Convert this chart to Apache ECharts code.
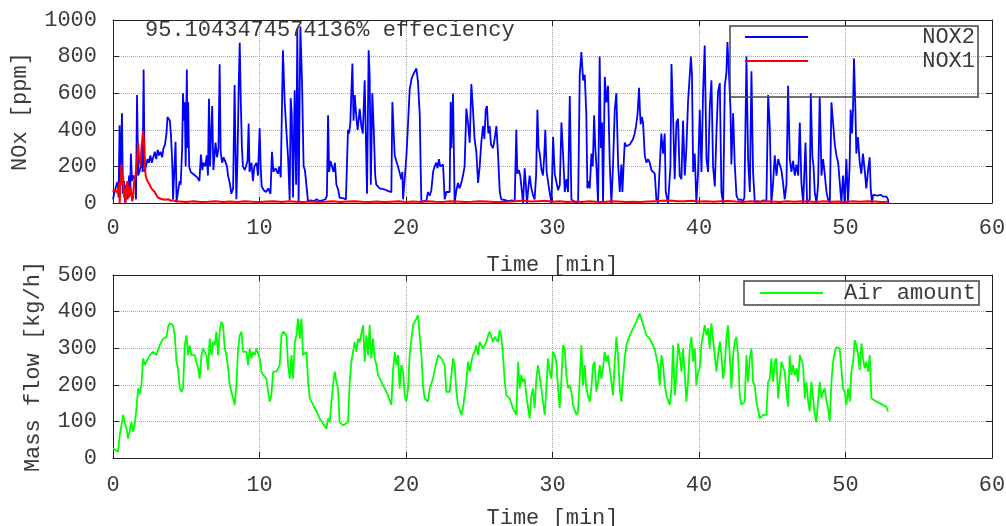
<!DOCTYPE html>
<html><head><meta charset="utf-8">
<script src="https://cdn.jsdelivr.net/npm/echarts@6/dist/echarts.min.js"></script>
<style>html,body{margin:0;padding:0;background:#fff}#c{width:1006px;height:526px}</style>
</head><body><div id="c"></div>
<script>
// ---- data: [time in min, value] ----
const titleText = '95.1043474574136% effeciency';
const seriesNames = ['NOX2', 'NOX1', 'Air amount'];
const timeRange = [0, 60, 10];
const noxRange = [0, 1000, 200];
const airRange = [0, 500, 100];

const nox2 = [
[0,20],[0.1,60],[0.2,50],[0.3,115],[0.38,30],[0.45,425],[0.52,100],[0.61,490],[0.68,50],[0.75,120],
[0.82,5],[0.9,100],[1.0,20],[1.1,150],[1.17,40],[1.22,270],[1.3,120],[1.4,150],[1.5,130],[1.57,20],
[1.64,590],[1.72,150],[1.8,170],[1.9,200],[1.96,300],[2.02,170],[2.09,730],[2.16,170],[2.25,200],[2.35,240],
[2.45,220],[2.55,260],[2.65,220],[2.75,250],[2.85,280],[2.95,240],[3.05,290],[3.15,260],[3.25,280],[3.35,250],
[3.45,300],[3.55,320],[3.65,380],[3.72,470],[3.8,480],[3.88,450],[3.95,380],[4.0,300],[4.05,200],[4.1,20],
[4.2,10],[4.27,335],[4.34,10],[4.45,20],[4.55,120],[4.62,100],[4.72,300],[4.78,600],[4.84,450],[4.9,550],
[4.96,200],[5.04,730],[5.09,300],[5.13,550],[5.2,200],[5.3,170],[5.45,160],[5.6,150],[5.75,140],[5.9,120],
[6.0,265],[6.1,180],[6.17,220],[6.3,200],[6.4,260],[6.48,150],[6.55,570],[6.62,200],[6.77,530],[6.85,180],
[7.0,330],[7.1,250],[7.2,300],[7.28,758],[7.35,280],[7.45,220],[7.55,250],[7.65,230],[7.78,200],[7.85,150],
[7.97,110],[8.08,50],[8.2,80],[8.3,645],[8.36,300],[8.42,20],[8.5,250],[8.58,640],[8.65,875],[8.72,570],
[8.8,300],[8.87,200],[9.0,180],[9.1,190],[9.18,230],[9.26,434],[9.32,170],[9.45,220],[9.55,120],[9.65,200],
[9.8,220],[9.9,150],[10.01,408],[10.08,200],[10.15,90],[10.3,70],[10.45,60],[10.6,80],[10.75,50],[10.85,280],
[10.95,170],[11.1,190],[11.25,160],[11.35,200],[11.45,140],[11.6,835],[11.72,550],[11.83,400],[11.95,250],[12.06,15],
[12.13,573],[12.2,490],[12.29,30],[12.4,616],[12.5,100],[12.58,954],[12.67,0],[12.79,965],[12.9,670],[13.01,200],
[13.1,180],[13.2,180],[13.31,10],[13.5,15],[13.7,10],[13.9,20],[14.1,10],[14.3,15],[14.5,20],[14.6,40],
[14.68,480],[14.75,170],[14.85,230],[14.95,200],[15.05,170],[15.15,220],[15.25,100],[15.36,75],[15.47,30],[15.6,20],
[15.75,25],[15.9,20],[16.04,400],[16.12,380],[16.2,440],[16.27,450],[16.34,762],[16.42,450],[16.5,590],[16.6,480],
[16.7,400],[16.84,515],[16.95,420],[17.05,380],[17.18,670],[17.25,400],[17.34,50],[17.45,835],[17.52,700],[17.6,100],
[17.7,600],[17.8,400],[17.9,150],[17.97,100],[18.2,80],[18.5,75],[18.8,65],[19.0,60],[19.07,552],[19.15,400],
[19.23,260],[19.34,250],[19.45,200],[19.55,170],[19.68,130],[19.75,170],[19.8,20],[19.9,120],[20.03,260],[20.15,450],
[20.25,620],[20.38,680],[20.48,700],[20.6,690],[20.71,735],[20.82,660],[20.94,480],[21.0,200],[21.05,5],[21.2,10],
[21.39,10],[21.5,60],[21.62,40],[21.73,70],[21.85,170],[21.95,200],[22.07,220],[22.15,190],[22.25,240],[22.33,200],
[22.41,210],[22.53,210],[22.64,20],[22.75,60],[22.85,50],[22.98,60],[23.05,552],[23.1,300],[23.21,598],[23.32,0],
[23.44,70],[23.55,110],[23.65,80],[23.78,110],[23.89,150],[24.0,200],[24.12,516],[24.23,440],[24.35,330],[24.46,650],
[24.58,500],[24.68,350],[24.8,280],[24.92,110],[25.03,200],[25.14,330],[25.26,420],[25.35,350],[25.44,510],[25.53,530],
[25.62,380],[25.71,420],[25.8,320],[25.94,300],[26.05,350],[26.17,420],[26.28,270],[26.4,60],[26.5,20],[26.62,10],
[26.8,15],[27.0,10],[27.2,15],[27.42,10],[27.53,400],[27.6,160],[27.7,180],[27.8,150],[27.87,160],[27.99,0],
[28.1,190],[28.18,100],[28.26,0],[28.35,80],[28.44,150],[28.56,80],[28.68,40],[28.78,20],[28.88,150],[28.97,510],
[29.05,300],[29.13,270],[29.25,180],[29.35,150],[29.43,250],[29.51,400],[29.6,170],[29.7,170],[29.8,60],[29.93,0],
[30.04,360],[30.15,160],[30.25,120],[30.38,70],[30.5,100],[30.61,440],[30.72,270],[30.84,60],[30.95,130],[31.06,60],
[31.18,585],[31.29,20],[31.4,10],[31.52,5],[31.75,5],[31.86,700],[31.97,825],[32.09,670],[32.2,700],[32.31,480],
[32.38,80],[32.46,120],[32.54,80],[32.66,270],[32.75,200],[32.84,480],[32.92,300],[33.0,200],[33.11,0],[33.22,800],
[33.3,300],[33.38,440],[33.45,0],[33.57,690],[33.68,550],[33.79,640],[33.91,210],[34.02,0],[34.13,200],[34.25,510],
[34.36,600],[34.48,210],[34.59,60],[34.7,210],[34.77,60],[34.85,200],[34.93,330],[35.05,310],[35.16,300],[35.28,320],
[35.39,330],[35.5,350],[35.61,380],[35.7,420],[35.8,480],[35.86,560],[35.91,630],[35.97,500],[36.02,430],[36.1,470],
[36.18,440],[36.3,260],[36.41,220],[36.52,240],[36.64,220],[36.75,180],[36.85,190],[36.98,160],[37.09,20],[37.2,0],
[37.32,5],[37.43,380],[37.55,270],[37.66,380],[37.73,60],[37.89,0],[38.05,200],[38.12,760],[38.23,480],[38.34,130],
[38.46,440],[38.57,460],[38.68,150],[38.8,130],[38.91,450],[39.03,150],[39.14,300],[39.25,550],[39.37,700],[39.45,800],
[39.52,700],[39.6,170],[39.71,270],[39.82,0],[39.94,170],[40.05,510],[40.17,170],[40.28,610],[40.39,860],[40.51,240],
[40.62,170],[40.74,530],[40.85,670],[40.96,200],[41.08,90],[41.19,380],[41.3,610],[41.42,655],[41.53,60],[41.65,0],
[41.76,640],[41.87,710],[41.94,880],[42.05,700],[42.15,510],[42.21,210],[42.33,490],[42.44,210],[42.56,40],[42.7,15],
[42.85,20],[43.01,10],[43.1,30],[43.24,800],[43.35,240],[43.47,60],[43.58,720],[43.69,170],[43.81,5],[44.0,10],
[44.2,5],[44.4,15],[44.6,10],[44.72,590],[44.83,420],[44.94,0],[45.05,100],[45.17,260],[45.29,150],[45.4,240],
[45.51,210],[45.62,180],[45.74,110],[45.85,20],[45.97,100],[46.08,640],[46.2,240],[46.31,170],[46.42,230],[46.54,150],
[46.65,210],[46.77,150],[46.88,440],[46.99,110],[47.11,0],[47.27,330],[47.38,0],[47.56,20],[47.63,600],[47.74,250],
[47.82,200],[47.9,60],[48.02,0],[48.13,100],[48.24,580],[48.36,150],[48.47,240],[48.58,160],[48.7,60],[48.81,20],
[48.93,0],[49.04,550],[49.15,440],[49.27,320],[49.38,260],[49.5,220],[49.6,210],[49.72,0],[49.83,150],[49.94,0],
[50.06,240],[50.17,0],[50.28,200],[50.35,510],[50.44,380],[50.51,510],[50.58,790],[50.67,530],[50.74,270],[50.85,360],
[50.97,220],[51.08,160],[51.19,270],[51.31,180],[51.42,80],[51.54,180],[51.65,250],[51.72,80],[51.81,0],[51.88,45],
[52.0,45],[52.2,40],[52.4,45],[52.56,35],[52.79,35],[52.9,20],[52.93,0]
];

const nox1 = [
[0,60],[0.1,75],[0.2,65],[0.3,55],[0.4,110],[0.46,0],[0.52,120],[0.57,215],[0.63,100],[0.69,150],
[0.75,30],[0.8,80],[0.86,0],[0.91,10],[0.97,120],[1.03,110],[1.09,30],[1.14,40],[1.2,90],[1.25,80],
[1.31,10],[1.37,30],[1.43,110],[1.48,120],[1.54,150],[1.6,205],[1.66,250],[1.71,330],[1.77,260],[1.82,240],
[1.88,200],[1.94,295],[2.0,300],[2.05,395],[2.12,330],[2.18,200],[2.23,150],[2.3,130],[2.39,115],[2.5,100],
[2.62,80],[2.73,70],[2.85,60],[2.95,45],[3.07,30],[3.2,28],[3.3,22],[3.42,25],[3.55,18],[3.64,15],
[3.8,20],[3.95,12],[4.1,15],[4.33,8],[4.5,8],[5,6],[5.5,9],[6,5],[6.5,7],[7,10],
[7.5,6],[8,8],[8.5,5],[9,9],[9.5,7],[10,6],[10.5,8],[11,10],[11.5,6],[12,9],
[12.5,7],[13,5],[13.5,8],[14,6],[14.5,7],[15,9],[15.5,5],[16,8],[16.5,10],[17,7],
[17.5,6],[18,8],[18.5,5],[19,7],[19.5,9],[20,6],[20.5,8],[21,5],[21.5,10],[22,7],
[22.5,6],[23,9],[23.5,8],[24,6],[24.5,7],[25,10],[25.5,8],[26,6],[26.5,5],[27,7],
[27.5,9],[28,14],[28.5,8],[29,10],[29.5,12],[30,7],[30.5,9],[31,6],[31.5,8],[32,5],
[32.5,10],[33,7],[33.5,6],[34,9],[34.5,8],[35,5],[35.5,7],[36,6],[36.5,8],[37,10],
[37.5,12],[38,14],[38.5,10],[39,9],[39.5,12],[40,8],[40.5,10],[41,7],[41.5,9],[42,11],
[42.5,8],[43,6],[43.5,9],[44,7],[44.5,10],[45,8],[45.5,6],[46,9],[46.5,7],[47,10],
[47.5,8],[48,6],[48.5,9],[49,7],[49.5,8],[50,6],[50.5,9],[51,7],[51.5,10],[52,8],
[52.5,6],[52.9,7]
];

const air = [
[0,26],[0.12,21],[0.35,17],[0.46,63],[0.58,90],[0.69,118],[0.8,98],[0.92,80],[1.03,53],[1.14,48],
[1.26,98],[1.37,72],[1.49,95],[1.6,135],[1.71,190],[1.83,176],[1.94,199],[2.05,272],[2.17,254],[2.28,263],
[2.51,281],[2.74,290],[2.96,281],[3.19,308],[3.42,326],[3.65,331],[3.76,358],[3.87,368],[4.1,363],[4.22,335],
[4.33,263],[4.44,245],[4.56,190],[4.67,181],[4.78,190],[4.9,308],[5.01,335],[5.13,281],[5.24,308],[5.35,281],
[5.58,281],[5.81,245],[5.92,217],[6.04,281],[6.15,299],[6.38,281],[6.49,240],[6.6,326],[6.72,281],[6.83,317],
[6.95,308],[7.06,345],[7.17,281],[7.29,350],[7.4,372],[7.51,363],[7.63,299],[7.74,281],[7.86,245],[7.97,199],
[8.08,181],[8.2,163],[8.31,145],[8.43,208],[8.54,299],[8.65,335],[8.77,345],[8.88,290],[9.11,290],[9.22,254],
[9.33,299],[9.45,272],[9.56,290],[9.68,281],[9.79,299],[9.9,303],[10.02,272],[10.13,236],[10.25,227],[10.47,217],
[10.59,181],[10.7,154],[10.81,172],[10.93,236],[11.16,236],[11.38,254],[11.5,335],[11.61,345],[11.84,335],[11.95,254],
[12.07,217],[12.18,281],[12.29,217],[12.41,317],[12.52,335],[12.63,381],[12.75,326],[12.86,381],[12.97,281],[13.2,290],
[13.32,208],[13.43,163],[13.66,145],[13.89,127],[14.11,108],[14.57,80],[14.68,108],[14.8,98],[14.91,154],[15.02,199],
[15.14,236],[15.25,208],[15.36,190],[15.47,98],[15.7,89],[16.04,98],[16.16,208],[16.27,263],[16.5,317],[16.61,290],
[16.72,326],[16.84,317],[17.07,363],[17.18,263],[17.29,335],[17.41,281],[17.52,363],[17.63,272],[17.75,326],[17.86,272],
[17.98,254],[18.09,227],[18.43,199],[18.77,171],[19.0,145],[19.11,236],[19.23,290],[19.34,254],[19.45,281],[19.57,190],
[19.68,254],[19.8,236],[19.91,171],[20.02,154],[20.14,190],[20.25,281],[20.48,363],[20.71,381],[20.82,390],[20.93,390],
[21.05,281],[21.16,199],[21.27,163],[21.5,154],[21.62,190],[21.84,217],[21.96,240],[22.19,281],[22.41,272],[22.64,254],
[22.75,181],[22.98,181],[23.1,227],[23.21,272],[23.32,254],[23.44,181],[23.55,145],[23.78,118],[23.89,136],[24.0,171],
[24.12,208],[24.23,263],[24.35,236],[24.46,263],[24.57,281],[24.69,290],[24.8,308],[24.92,281],[25.03,317],[25.26,299],
[25.37,308],[25.48,317],[25.6,335],[25.71,345],[25.94,317],[26.05,331],[26.17,335],[26.28,317],[26.39,350],[26.51,331],
[26.62,281],[26.74,208],[26.85,171],[27.08,163],[27.3,136],[27.53,118],[27.65,263],[27.76,190],[27.87,227],[27.99,208],
[28.1,217],[28.21,171],[28.44,108],[28.56,171],[28.67,190],[28.78,136],[28.9,217],[29.01,254],[29.12,254],[29.24,190],
[29.35,154],[29.47,118],[29.58,190],[29.69,272],[29.81,236],[29.92,217],[30.03,290],[30.15,281],[30.26,263],[30.38,190],
[30.49,136],[30.6,208],[30.72,308],[30.83,299],[30.94,227],[31.06,190],[31.17,199],[31.29,181],[31.4,145],[31.63,118],
[31.74,127],[31.86,217],[31.97,308],[32.08,199],[32.2,254],[32.31,190],[32.42,171],[32.54,154],[32.65,190],[32.77,254],
[32.88,263],[32.99,181],[33.11,208],[33.22,254],[33.33,217],[33.45,245],[33.56,290],[33.68,263],[33.79,281],[33.9,245],
[34.02,208],[34.13,171],[34.25,263],[34.36,331],[34.47,281],[34.59,190],[34.7,154],[34.81,217],[34.93,272],[35.04,308],
[35.27,335],[35.5,354],[35.72,372],[35.95,395],[36.06,381],[36.18,376],[36.41,335],[36.63,326],[36.86,308],[36.97,299],
[37.2,254],[37.32,199],[37.43,281],[37.55,254],[37.66,199],[37.78,171],[38.0,145],[38.12,190],[38.23,308],[38.34,171],
[38.46,227],[38.57,313],[38.69,281],[38.8,236],[38.91,299],[39.03,227],[39.14,154],[39.25,208],[39.37,299],[39.48,331],
[39.6,263],[39.71,299],[39.82,199],[39.94,236],[40.05,245],[40.16,308],[40.28,335],[40.39,363],[40.51,335],[40.62,354],
[40.73,299],[40.85,368],[40.96,363],[41.07,281],[41.19,236],[41.3,281],[41.42,317],[41.53,281],[41.64,217],[41.76,254],
[41.87,326],[41.98,363],[42.1,281],[42.21,190],[42.33,281],[42.44,317],[42.55,331],[42.67,281],[42.78,171],[42.89,145],
[43.12,154],[43.24,281],[43.35,208],[43.46,272],[43.58,299],[43.69,208],[43.8,199],[43.92,154],[44.15,108],[44.37,118],
[44.6,118],[44.71,208],[44.83,217],[44.94,272],[45.06,208],[45.17,263],[45.28,272],[45.4,163],[45.51,208],[45.62,263],
[45.74,258],[45.85,236],[45.97,181],[46.08,140],[46.19,281],[46.31,227],[46.42,254],[46.54,227],[46.65,245],[46.76,208],
[46.88,281],[46.99,281],[47.1,254],[47.22,163],[47.33,208],[47.45,154],[47.56,127],[47.67,208],[47.79,163],[47.9,118],
[48.01,98],[48.13,103],[48.24,208],[48.36,163],[48.47,181],[48.58,190],[48.7,154],[48.81,136],[48.92,100],[49.04,208],
[49.15,263],[49.27,290],[49.38,303],[49.49,308],[49.61,299],[49.72,294],[49.83,190],[49.95,181],[50.06,145],[50.18,190],
[50.29,154],[50.4,236],[50.52,263],[50.63,322],[50.74,308],[50.86,281],[50.97,240],[51.09,313],[51.2,272],[51.31,245],
[51.43,263],[51.54,236],[51.65,281],[51.77,163],[52.11,154],[52.56,145],[52.79,140],[52.9,127]
];

// ---- styling ----
const FONT = '"Liberation Mono", "DejaVu Sans Mono", monospace';
const TXT = '#3a3a3a';
const FRAME = '#222';
const FS = 22;

function xAxes(grid, nameGap, labelMargin) {
  const base = {type:'value', gridIndex:grid, min:timeRange[0], max:timeRange[1], interval:timeRange[2],
    axisLine:{show:true, onZero:false, lineStyle:{color:FRAME, width:1}},
    axisTick:{show:true, inside:true, length:6, lineStyle:{color:FRAME}}};
  return [
    Object.assign({}, base, {position:'bottom',
      axisLabel:{color:TXT, fontFamily:FONT, fontSize:FS, margin:labelMargin, formatter:v => String(v)},
      splitLine:{show:true, lineStyle:{type:'dotted', color:'#a8a8a8', width:1}},
      name:'Time [min]', nameLocation:'middle', nameGap:nameGap,
      nameTextStyle:{color:TXT, fontFamily:FONT, fontSize:FS}}),
    Object.assign({}, base, {position:'top', axisLabel:{show:false}, splitLine:{show:false}})
  ];
}
function yAxes(grid, range, name, nameGap) {
  const base = {type:'value', gridIndex:grid, min:range[0], max:range[1], interval:range[2],
    axisLine:{show:true, onZero:false, lineStyle:{color:FRAME, width:1}},
    axisTick:{show:true, inside:true, length:6, lineStyle:{color:FRAME}}};
  return [
    Object.assign({}, base, {position:'left',
      axisLabel:{color:TXT, fontFamily:FONT, fontSize:FS, margin:16, formatter:v => String(v)},
      splitLine:{show:true, lineStyle:{type:'dotted', color:'#a8a8a8', width:1}},
      name:name, nameLocation:'middle', nameRotate:90, nameGap:nameGap,
      nameTextStyle:{color:TXT, fontFamily:FONT, fontSize:FS}}),
    Object.assign({}, base, {position:'right', axisLabel:{show:false}, splitLine:{show:false}})
  ];
}

const chart = echarts.init(document.getElementById('c'), null, {renderer:'canvas'});
chart.setOption({
  animation:false,
  backgroundColor:'#fff',
  title:{text:titleText, left:145, top:19, padding:0,
    textStyle:{fontFamily:FONT, fontSize:FS, fontWeight:'normal', color:TXT}},
  grid:[{left:113, top:20, width:879, height:183, containLabel:false, outerBoundsMode:'none'},
        {left:113, top:275, width:879, height:183, containLabel:false, outerBoundsMode:'none'}],
  xAxis:[...xAxes(0, 51, 14), ...xAxes(1, 49, 16)],
  yAxis:[...yAxes(0, noxRange, 'NOx [ppm]', 82), ...yAxes(1, airRange, 'Mass flow [kg/h]', 69)],
  legend:[
    {data:[seriesNames[0], seriesNames[1]], orient:'vertical', left:730, top:26, padding:[0,3,25,15],
     icon:'rect', itemWidth:63, itemHeight:2, itemGap:2, borderColor:'#444', borderWidth:1.5,
     formatter:n => '{r|' + n + '}',
     textStyle:{color:TXT, fontFamily:FONT, fontSize:FS,
       rich:{r:{width:162, align:'right', color:TXT, fontFamily:FONT, fontSize:FS, lineHeight:22}}}},
    {data:[seriesNames[2]], orient:'vertical', left:744, top:281, padding:[1,3,1,16],
     icon:'rect', itemWidth:63, itemHeight:2, borderColor:'#444', borderWidth:1.5,
     formatter:n => '{r|' + n + '}',
     textStyle:{color:TXT, fontFamily:FONT, fontSize:FS,
       rich:{r:{width:148, align:'right', color:TXT, fontFamily:FONT, fontSize:FS, lineHeight:22}}}}
  ],
  series:[
    {name:seriesNames[0], type:'line', xAxisIndex:0, yAxisIndex:0, data:nox2, symbol:'none',
     lineStyle:{color:'#0000ff', width:1.8}, itemStyle:{color:'#0000ff'}},
    {name:seriesNames[1], type:'line', xAxisIndex:0, yAxisIndex:0, data:nox1, symbol:'none',
     lineStyle:{color:'#ff0000', width:2}, itemStyle:{color:'#ff0000'}},
    {name:seriesNames[2], type:'line', xAxisIndex:2, yAxisIndex:2, data:air, symbol:'none',
     lineStyle:{color:'#00ff00', width:1.8}, itemStyle:{color:'#00ff00'}}
  ]
});
</script>
</body></html>
